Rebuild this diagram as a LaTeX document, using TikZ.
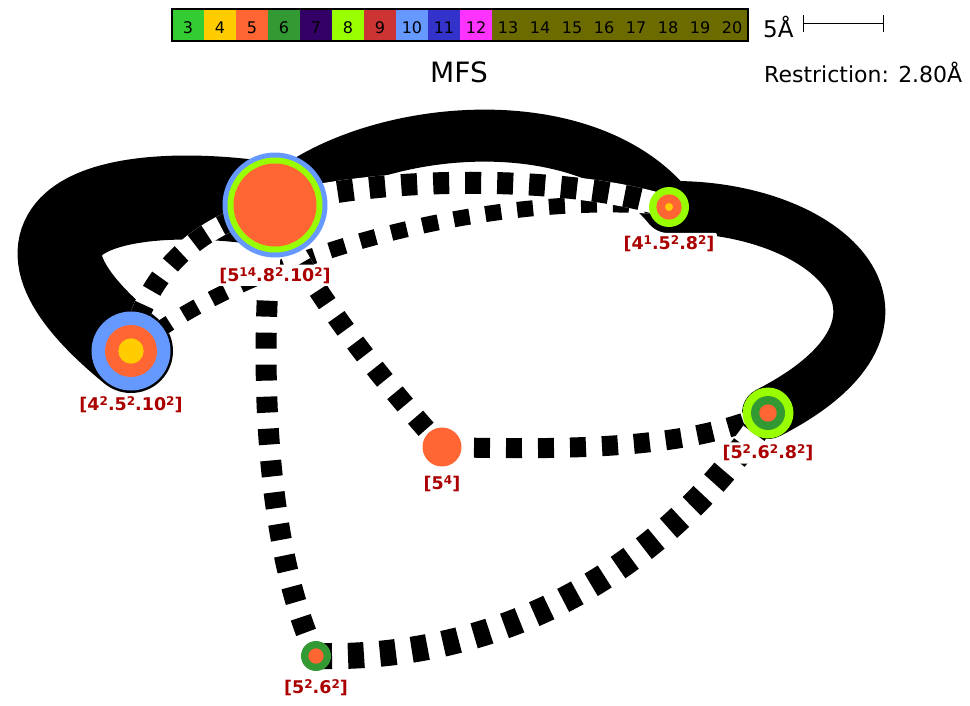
\documentclass[tikz,border=0pt]{standalone}
\usepackage{fontspec}
\setmainfont{DejaVu Sans}
\usetikzlibrary{arrows.meta,positioning}
\definecolor{c3}{HTML}{33CC33}
\definecolor{c4}{HTML}{FFCC00}
\definecolor{c5}{HTML}{FF6633}
\definecolor{c6}{HTML}{339933}
\definecolor{c7}{HTML}{330066}
\definecolor{c8}{HTML}{99FF00}
\definecolor{c9}{HTML}{CC3333}
\definecolor{c10}{HTML}{6699FF}
\definecolor{c11}{HTML}{3333CC}
\definecolor{c12}{HTML}{FF33FF}
\definecolor{c13}{HTML}{6B6B00}
\definecolor{lblred}{HTML}{AA0000}
\newcommand\up[1]{\raisebox{5pt}{\fontsize{12}{12}\selectfont #1}}

\begin{document}
\begin{tikzpicture}[x=1pt,y=-1pt, node distance=6pt,
 ring/.style={circle,inner sep=0pt,minimum size=#1},
 lbl/.style={font=\fontsize{17.5}{20}\selectfont\bfseries,text=lblred,fill=white,inner sep=2.5pt,rounded corners=2pt},
 band/.style={line width=#1,line cap=round},
 link/.style={line width=#1,dash pattern=on 16pt off 16pt,preaction={draw=white,solid,line width=#1}},
 cell/.style={minimum width=32pt,minimum height=32pt,inner sep=0pt,text height=16.5pt,font=\fontsize{16}{16}\selectfont}]
\useasboundingbox (0,0) rectangle (970,705);

% legend
\foreach \n [count=\i from 0] in {3,...,12}
  \node[cell,fill=c\n] (k\n) at (188+32*\i,25) {\n};
\node[cell,fill=c13,minimum width=256pt] (kmore) at (620,25) {};
\foreach \n [count=\i from 0] in {13,...,20}
  \node[cell] (k\n) at (508+32*\i,25) {\n};
\draw[line width=1.5pt] (k3.north west) rectangle (kmore.south east);
\node[font=\fontsize{28}{28}\selectfont,anchor=base,inner sep=0pt] (mfs) at (459,82) {MFS};
\node[font=\fontsize{23}{23}\selectfont,anchor=base west,inner sep=0pt] (five) at (763,37) {5Å};
\coordinate (s1) at (803,23.5);
\coordinate (s2) at (884,23.5);
\draw[{Bar[width=17pt]}-{Bar[width=17pt]},line width=1pt] (s1) -- (s2);
\node[font=\fontsize{22}{22}\selectfont,anchor=base west,inner sep=0pt] (restr) at (764,82) {Restriction: 2.80Å};

% sites
\coordinate (A) at (275,205);
\coordinate (B) at (669,207);
\coordinate (C) at (131,351);
\coordinate (D) at (442,447);
\coordinate (E) at (768,413);
\coordinate (F) at (316,656);

% solid bonds
\draw[band=84pt] (C) .. controls (-35,215) and (120,180) .. (A);
\draw[band=52pt] (A) .. controls (360,125) and (580,100) .. (B);
\draw[band=52pt] (B) .. controls (830,205) and (950,320) .. (E);

% dashed bonds
\draw[link=20pt] (C) .. controls (140,290) and (180,230) .. (A);
\draw[link=16pt] (C) .. controls (240,260) and (480,190) .. (B);
\draw[link=22pt] (A) .. controls (380,175) and (570,175) .. (B);
\draw[link=20pt] (A) .. controls (295,275) and (390,390) .. (D);
\draw[link=21pt] (A) .. controls (258,340) and (262,540) .. (F);
\draw[link=20pt] (D) .. controls (560,450) and (690,450) .. (E);
\draw[link=26pt] (F) .. controls (480,660) and (650,590) .. (E);

% tiles
\node[ring=105pt,fill=c10] (A1) at (A) {};
\node[ring=95pt,fill=c8] (A2) at (A) {};
\node[ring=83pt,fill=c5] (A3) at (A) {};
\node[ring=40pt,fill=c8] (B1) at (B) {};
\node[ring=25.4pt,fill=c5] (B2) at (B) {};
\node[ring=8pt,fill=c4] (B3) at (B) {};
\node[ring=79pt,fill=c10] (C1) at (C) {};
\node[ring=52pt,fill=c5] (C2) at (C) {};
\node[ring=25.4pt,fill=c4] (C3) at (C) {};
\node[ring=39pt,fill=c5] (D1) at (D) {};
\node[ring=51pt,fill=c8] (E1) at (E) {};
\node[ring=34pt,fill=c6] (E2) at (E) {};
\node[ring=17.4pt,fill=c5] (E3) at (E) {};
\node[ring=30pt,fill=c6] (F1) at (F) {};
\node[ring=15.4pt,fill=c5] (F2) at (F) {};

% labels
\node[lbl,below=6.7pt of A1] (Alab) {[5\up{14}.8\up{2}.10\up{2}]};
\node[lbl,below=5.5pt of B1] (Blab) {[4\up{1}.5\up{2}.8\up{2}]};
\node[lbl,below=3.5pt of C1] (Clab) {[4\up{2}.5\up{2}.10\up{2}]};
\node[lbl,below=6pt of D1] (Dlab) {[5\up{4}]};
\node[lbl,below=3.5pt of E1] (Elab) {[5\up{2}.6\up{2}.8\up{2}]};
\node[lbl,below=5.8pt of F1] (Flab) {[5\up{2}.6\up{2}]};
\end{tikzpicture}
\end{document}
